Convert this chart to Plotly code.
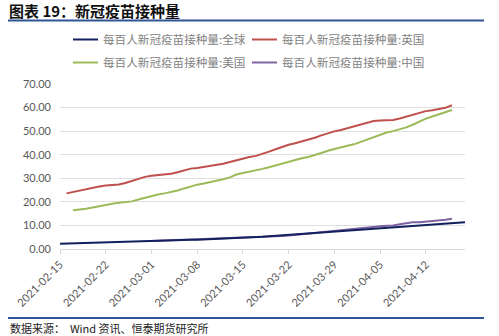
import plotly.graph_objects as go
import pandas as pd

# ---- data ----
global_start = "2021-02-15"
global_vals = [2.2, 2.3, 2.4, 2.5, 2.5, 2.6, 2.7, 2.8, 2.9, 2.9, 3.0, 3.1, 3.2, 3.3, 3.4, 3.4,
               3.5, 3.6, 3.7, 3.8, 3.9, 3.9, 4.0, 4.2, 4.3, 4.5, 4.6, 4.7, 4.8, 4.9, 5.1, 5.2,
               5.4, 5.6, 5.7, 5.9, 6.1, 6.3, 6.5, 6.7, 6.9, 7.1, 7.3, 7.5, 7.7, 7.9, 8.1, 8.3,
               8.5, 8.7, 8.9, 9.2, 9.4, 9.7, 9.9, 10.2, 10.4, 10.6, 10.8, 11.0, 11.1, 11.2, 11.3]

uk_start = "2021-02-16"
uk_vals = [23.6, 24.2, 24.9, 25.5, 26.1, 26.5, 26.9, 27.1, 27.4, 28.0, 28.9, 29.9, 30.6, 31.1,
           31.4, 31.6, 31.9, 32.6, 33.5, 34.1, 34.4, 34.8, 35.3, 35.8, 36.2, 36.9, 37.7, 38.4,
           39.0, 39.5, 40.3, 41.3, 42.3, 43.3, 44.2, 44.9, 45.6, 46.3, 47.2, 48.2, 49.2, 49.9,
           50.5, 51.3, 52.2, 53.0, 53.7, 54.3, 54.5, 54.5, 54.7, 55.4, 56.2, 57.1, 57.8, 58.5,
           58.9, 59.3, 59.9, 61.0]

us_start = "2021-02-17"
us_vals = [16.4, 16.6, 17.1, 17.6, 18.2, 18.7, 19.2, 19.6, 19.8, 20.2, 21.0, 21.8, 22.5, 23.1,
           23.6, 24.1, 24.8, 25.7, 26.6, 27.3, 27.8, 28.3, 28.9, 29.6, 30.4, 31.6, 32.2, 32.7,
           33.3, 34.0, 34.7, 35.5, 36.4, 37.2, 37.9, 38.5, 39.0, 39.7, 40.7, 41.7, 42.5, 43.2,
           43.8, 44.4, 45.4, 46.5, 47.7, 48.6, 49.4, 50.0, 50.7, 51.6, 52.7, 54.0, 55.3, 56.2,
           57.1, 57.9, 59.0]

cn_start = "2021-03-01"
cn_vals = [3.4, 3.5, 3.5, 3.6, 3.7, 3.8, 3.8, 3.9, 4.0, 4.1, 4.2, 4.3, 4.5, 4.6, 4.7, 4.8,
           4.9, 5.0, 5.1, 5.3, 5.5, 5.7, 5.9, 6.2, 6.5, 6.8, 7.1, 7.4, 7.7, 8.0, 8.4, 8.8,
           9.1, 9.3, 9.5, 9.7, 9.9, 10.0, 10.5, 11.0, 11.3, 11.4, 11.6, 11.8, 12.1, 12.4, 12.8]

series_names = ["每百人新冠疫苗接种量:全球", "每百人新冠疫苗接种量:英国",
                "每百人新冠疫苗接种量:美国", "每百人新冠疫苗接种量:中国"]
series_colors = ["#12205E", "#C0504D", "#9BBB59", "#8064A2"]

tick_dates = ["2021-02-15", "2021-02-22", "2021-03-01", "2021-03-08", "2021-03-15",
              "2021-03-22", "2021-03-29", "2021-04-05", "2021-04-12"]
y_ticks = [0, 10, 20, 30, 40, 50, 60, 70]

title_text = "图表 19：新冠疫苗接种量"
source_text = "数据来源：  Wind 资讯、恒泰期货研究所"


def dates(start, n):
    return pd.date_range(start, periods=n, freq="D")


series = [(global_start, global_vals), (uk_start, uk_vals), (us_start, us_vals), (cn_start, cn_vals)]
traces = []
for (start, vals), name, color in zip(series, series_names, series_colors):
    traces.append(go.Scatter(x=dates(start, len(vals)), y=vals, mode="lines", name=name,
                             showlegend=False, line=dict(color=color, width=2)))

fig = go.Figure()
# draw China first so the global line sits on top where they overlap
for idx in [3, 1, 2, 0]:
    fig.add_trace(traces[idx])

CJK = "Noto Sans CJK SC"
PW, PH = 405, 165  # plot area size in px
L, T = 60, 84


def px_x(x):
    return (x - L) / PW


def px_y(y):
    return 1 - (y - T) / PH


fig.update_layout(
    width=499, height=336,
    margin=dict(l=60, r=34, t=84, b=87),
    paper_bgcolor="white", plot_bgcolor="white",
    showlegend=False,
    xaxis=dict(type="date", range=["2021-02-15", "2021-04-18"],
               tickvals=tick_dates, ticktext=tick_dates, tickangle=-45,
               tickfont=dict(family="Lato", size=11, color="#595959"),
               showgrid=False, showline=True, linecolor="#D9D9D9", linewidth=1,
               ticks="outside", ticklen=4, tickcolor="#D9D9D9", zeroline=False),
    yaxis=dict(range=[0, 70], tickvals=y_ticks, tickformat=".2f",
               tickfont=dict(family="Lato", size=11, color="#595959"),
               showgrid=True, gridcolor="#E0E0E0", gridwidth=1, zeroline=False,
               showline=False, ticks="", ticklabelstandoff=8),
)

# legend (2 x 2 grid), drawn as key lines and labels
legend_cols = [73, 252]
legend_rows = [39.5, 62.5]
for i, (name, color) in enumerate(zip(series_names, series_colors)):
    cx = legend_cols[i % 2]
    cy = legend_rows[i // 2]
    fig.add_shape(type="line", xref="paper", yref="paper",
                  x0=px_x(cx), x1=px_x(cx + 25), y0=px_y(cy), y1=px_y(cy),
                  line=dict(color=color, width=2))
    fig.add_annotation(text=name, xref="paper", yref="paper", x=px_x(cx + 28), y=px_y(cy),
                       xanchor="left", yanchor="middle", showarrow=False,
                       font=dict(family=CJK, size=11.6, color="#7F7F7F"))

fig.add_annotation(text=title_text, xref="paper", yref="paper", x=px_x(7), y=px_y(10),
                   xanchor="left", yanchor="middle", showarrow=False,
                   font=dict(family=CJK, size=15, color="#111111", weight="bold"))
fig.add_annotation(text=source_text, xref="paper", yref="paper", x=px_x(8), y=px_y(328),
                   xanchor="left", yanchor="middle", showarrow=False,
                   font=dict(family=CJK, size=11, color="#222222"))
for ly in [20.5, 318]:
    fig.add_shape(type="line", xref="paper", yref="paper", x0=px_x(8), x1=px_x(484),
                  y0=px_y(ly), y1=px_y(ly), line=dict(color="#2F5597", width=2))

fig.write_html("out.html")
